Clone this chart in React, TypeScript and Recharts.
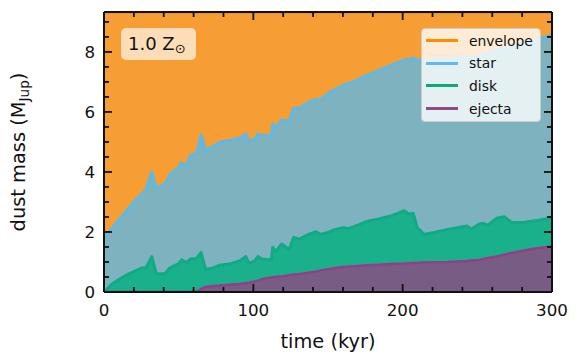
import { AreaChart, Area, XAxis, YAxis } from "recharts"

// time (kyr) and dust mass per component (M_Jup)
const time = [
  0, 5, 10, 15, 20, 25, 28, 32, 35, 41,
  44, 50, 52, 55, 58, 62, 65, 68, 73, 78,
  84, 91, 95, 97, 101, 103, 106, 112, 113, 115,
  119, 124, 127, 131, 137, 142, 145, 151, 154, 160,
  164, 170, 176, 184, 192, 201, 204, 207, 210, 212,
  214, 221, 230, 243, 246, 251, 254, 257, 263, 268,
  273, 281, 290, 300,
]
const ejecta = [
  0, 0, 0, 0, 0, 0, 0, 0, 0, 0,
  0, 0, 0, 0, 0, 0.02, 0.1, 0.17, 0.2, 0.22,
  0.24, 0.27, 0.3, 0.31, 0.35, 0.38, 0.43, 0.48, 0.49, 0.5,
  0.52, 0.56, 0.58, 0.6, 0.64, 0.68, 0.72, 0.77, 0.79, 0.83,
  0.85, 0.87, 0.89, 0.91, 0.93, 0.95, 0.96, 0.97, 0.97, 0.98,
  0.98, 0.99, 1.0, 1.03, 1.05, 1.07, 1.1, 1.13, 1.18, 1.24,
  1.3, 1.38, 1.46, 1.52,
]
const disk = [
  0, 0.25, 0.42, 0.56, 0.68, 0.8, 0.8, 1.18, 0.6, 0.62,
  0.8, 0.95, 1.07, 0.98, 1.1, 1.1, 1.22, 0.58, 0.6, 0.68,
  0.69, 0.77, 0.88, 0.65, 0.69, 0.8, 0.67, 0.59, 1.0, 0.84,
  1.08, 0.86, 1.24, 1.16, 1.28, 1.33, 1.2, 1.23, 1.28, 1.31,
  1.27, 1.36, 1.46, 1.52, 1.6, 1.76, 1.64, 1.65, 1.15, 1.07,
  0.94, 0.99, 1.08, 1.17, 1.04, 1.19, 1.19, 1.1, 1.28, 1.27,
  1.02, 0.94, 0.92, 0.95,
]
const star = [
  1.8, 1.85, 1.98, 2.14, 2.32, 2.45, 2.6, 2.82, 2.85, 2.98,
  3.1, 3.2, 3.23, 3.22, 3.45, 3.5, 3.91, 3.98, 4.05, 4.1,
  4.12, 4.08, 4.09, 4.08, 4.03, 4.09, 4.12, 4.13, 4.11, 4.12,
  4.13, 4.26, 4.3, 4.36, 4.4, 4.41, 4.48, 4.65, 4.65, 4.74,
  4.83, 4.84, 4.87, 4.95, 5.02, 5.02, 5.15, 5.18, 5.6, 5.67,
  5.78, 5.76, 5.7, 5.62, 5.73, 5.6, 5.61, 5.72, 5.61, 5.61,
  5.86, 5.96, 6.04, 6.08,
]
const envelope = [
  7.53, 7.23, 6.93, 6.63, 6.33, 6.08, 5.93, 5.33, 5.88, 5.73,
  5.43, 5.18, 5.03, 5.13, 4.78, 4.71, 4.1, 4.6, 4.48, 4.33,
  4.28, 4.21, 4.06, 4.29, 4.26, 4.06, 4.11, 4.13, 3.73, 3.87,
  3.6, 3.65, 3.21, 3.21, 3.01, 2.91, 2.93, 2.68, 2.61, 2.45,
  2.38, 2.26, 2.11, 1.95, 1.78, 1.6, 1.58, 1.53, 1.61, 1.61,
  1.63, 1.59, 1.55, 1.51, 1.51, 1.47, 1.43, 1.38, 1.26, 1.21,
  1.15, 1.05, 0.91, 0.78,
]

const TOTAL = 9.33
const xTicks = [0, 20, 40, 60, 80, 100, 120, 140, 160, 180, 200, 220, 240, 260, 280, 300]
const yTicks = [0, 0.5, 1, 1.5, 2, 2.5, 3, 3.5, 4, 4.5, 5, 5.5, 6, 6.5, 7, 7.5, 8, 8.5, 9]

// bottom to top in the stack
const series = [
  { key: "ejecta", fill: "#785c84", line: "#913f88" },
  { key: "disk", fill: "#19b08b", line: "#10ab84" },
  { key: "star", fill: "#7fb2bf", line: "#5fb9e6" },
  { key: "envelope", fill: "#f69d33", line: "#f5870e" },
]
const legendItems = [
  { name: "envelope", color: "#ff8c00" },
  { name: "star", color: "#64b9e6" },
  { name: "disk", color: "#0da67e" },
  { name: "ejecta", color: "#8e4a85" },
]

const data = time.map((t, i) => ({
  t,
  ejecta: ejecta[i],
  disk: disk[i],
  star: star[i],
  envelope: envelope[i],
}))

const FONT = "DejaVu Sans"
const INK = "#111111"
const W = 560
const H = 352
const MARGIN = { top: 3, right: 15, bottom: 0, left: 0 }
const Y_W = 96
const X_H = 68
// frame edges in svg space
const LEFT = MARGIN.left + Y_W
const RIGHT = W - MARGIN.right - 1
const TOP = MARGIN.top + 1
const BOTTOM = H - MARGIN.bottom - X_H

function BottomTick({ x, payload }: any) {
  const major = payload.value % 100 === 0
  return (
    <g>
      <line x1={x} x2={x} y1={BOTTOM} y2={BOTTOM - (major ? 8 : 5)} stroke={INK} strokeWidth={1.8} />
      {major && (
        <text x={x} y={BOTTOM + 24} textAnchor="middle" fontSize={16.7} fontFamily={FONT} fill={INK}>
          {payload.value}
        </text>
      )}
    </g>
  )
}

function TopTick({ x, payload }: any) {
  const major = payload.value % 100 === 0
  return <line x1={x} x2={x} y1={TOP} y2={TOP + (major ? 8 : 5)} stroke={INK} strokeWidth={1.8} />
}

function LeftTick({ y, payload }: any) {
  const major = payload.value % 2 === 0
  return (
    <g>
      <line x1={LEFT} x2={LEFT + (major ? 8 : 5)} y1={y} y2={y} stroke={INK} strokeWidth={1.8} />
      {major && (
        <text x={LEFT - 9} y={y + 6} textAnchor="end" fontSize={16.7} fontFamily={FONT} fill={INK}>
          {payload.value}
        </text>
      )}
    </g>
  )
}

function RightTick({ y, payload }: any) {
  const major = payload.value % 2 === 0
  return <line x1={RIGHT} x2={RIGHT - (major ? 8 : 5)} y1={y} y2={y} stroke={INK} strokeWidth={1.8} />
}

function YLabel({ viewBox }: any) {
  const cy = viewBox.y + viewBox.height / 2
  return (
    <text
      x={17}
      y={cy}
      transform={`rotate(-90, 17, ${cy})`}
      textAnchor="middle"
      fontSize={19.4}
      fontFamily={FONT}
      fill={INK}
    >
      dust mass (M
      <tspan fontSize={13.6} dy={4}>Jup</tspan>
      <tspan dy={-4}>)</tspan>
    </text>
  )
}

const axisLine = { stroke: INK, strokeWidth: 2 }

// the same four axes in both charts; the front one carries only the frame and ticks
function Axes({ show }: { show: boolean }) {
  return [
    <XAxis
      key="x"
      dataKey="t"
      type="number"
      domain={[0, 300]}
      ticks={xTicks}
      interval={0}
      height={X_H}
      tickLine={false}
      stroke={INK}
      axisLine={show ? axisLine : false}
      tick={show ? <BottomTick /> : false}
      label={
        show
          ? { value: "time (kyr)", position: "insideBottom", offset: 12, fontSize: 19.4, fontFamily: FONT, fill: INK }
          : undefined
      }
    />,
    <XAxis
      key="xt"
      xAxisId="top"
      orientation="top"
      dataKey="t"
      type="number"
      domain={[0, 300]}
      ticks={xTicks}
      interval={0}
      height={1}
      tickLine={false}
      stroke={INK}
      axisLine={show ? axisLine : false}
      tick={show ? <TopTick /> : false}
    />,
    <YAxis
      key="y"
      type="number"
      domain={[0, TOTAL]}
      allowDataOverflow
      ticks={yTicks}
      interval={0}
      width={Y_W}
      tickLine={false}
      stroke={INK}
      axisLine={show ? axisLine : false}
      tick={show ? <LeftTick /> : false}
      label={show ? <YLabel /> : undefined}
    />,
    <YAxis
      key="yr"
      yAxisId="right"
      orientation="right"
      type="number"
      domain={[0, TOTAL]}
      allowDataOverflow
      ticks={yTicks}
      interval={0}
      width={1}
      tickLine={false}
      stroke={INK}
      axisLine={show ? axisLine : false}
      tick={show ? <RightTick /> : false}
    />,
  ]
}

export default function App() {
  return (
    <div style={{ position: "relative", width: W, height: H, fontFamily: FONT }}>
      <AreaChart width={W} height={H} data={data} margin={MARGIN}>
        {series.map((s) => (
          <Area
            key={s.key}
            type="linear"
            dataKey={s.key}
            stackId="fill"
            stroke="none"
            fill={s.fill}
            fillOpacity={1}
            dot={false}
            activeDot={false}
            isAnimationActive={false}
          />
        ))}
        {series.map((s) => (
          <Area
            key={s.key + "-line"}
            type="linear"
            dataKey={s.key}
            stackId="line"
            stroke={s.line}
            strokeWidth={s.key === "ejecta" ? 2.5 : 3}
            strokeLinejoin="round"
            fill="none"
            dot={false}
            activeDot={false}
            isAnimationActive={false}
          />
        ))}
        {Axes({ show: false })}
      </AreaChart>

      <div style={{ position: "absolute", left: 0, top: 0, pointerEvents: "none" }}>
        <AreaChart width={W} height={H} data={data} margin={MARGIN}>
          <Area
            type="linear"
            dataKey="star"
            stroke="none"
            fill="none"
            dot={false}
            activeDot={false}
            isAnimationActive={false}
          />
          {Axes({ show: true })}
        </AreaChart>
      </div>

      <div
        style={{
          position: "absolute",
          left: 113,
          top: 20,
          width: 75,
          height: 32,
          boxSizing: "border-box",
          background: "rgba(255,255,255,0.65)",
          borderRadius: 5,
          fontSize: 18,
          color: INK,
          lineHeight: "32px",
          paddingLeft: 7,
          whiteSpace: "nowrap",
        }}
      >
        1.0 Z<span style={{ fontSize: 13, position: "relative", top: 3 }}>⊙</span>
      </div>

      <div
        style={{
          position: "absolute",
          left: 413,
          top: 20,
          width: 120,
          height: 94,
          boxSizing: "border-box",
          background: "rgba(255,255,255,0.8)",
          border: "1px solid #cccccc",
          borderRadius: 4,
          fontSize: 13.9,
          color: INK,
        }}
      >
        {legendItems.map((item, i) => (
          <div
            key={item.name}
            style={{
              position: "absolute",
              left: 4,
              top: 0.5 + i * 22.7,
              height: 22,
              display: "flex",
              alignItems: "center",
            }}
          >
            <span style={{ display: "inline-block", width: 32, height: 3, background: item.color }} />
            <span style={{ marginLeft: 11 }}>{item.name}</span>
          </div>
        ))}
      </div>
    </div>
  )
}
